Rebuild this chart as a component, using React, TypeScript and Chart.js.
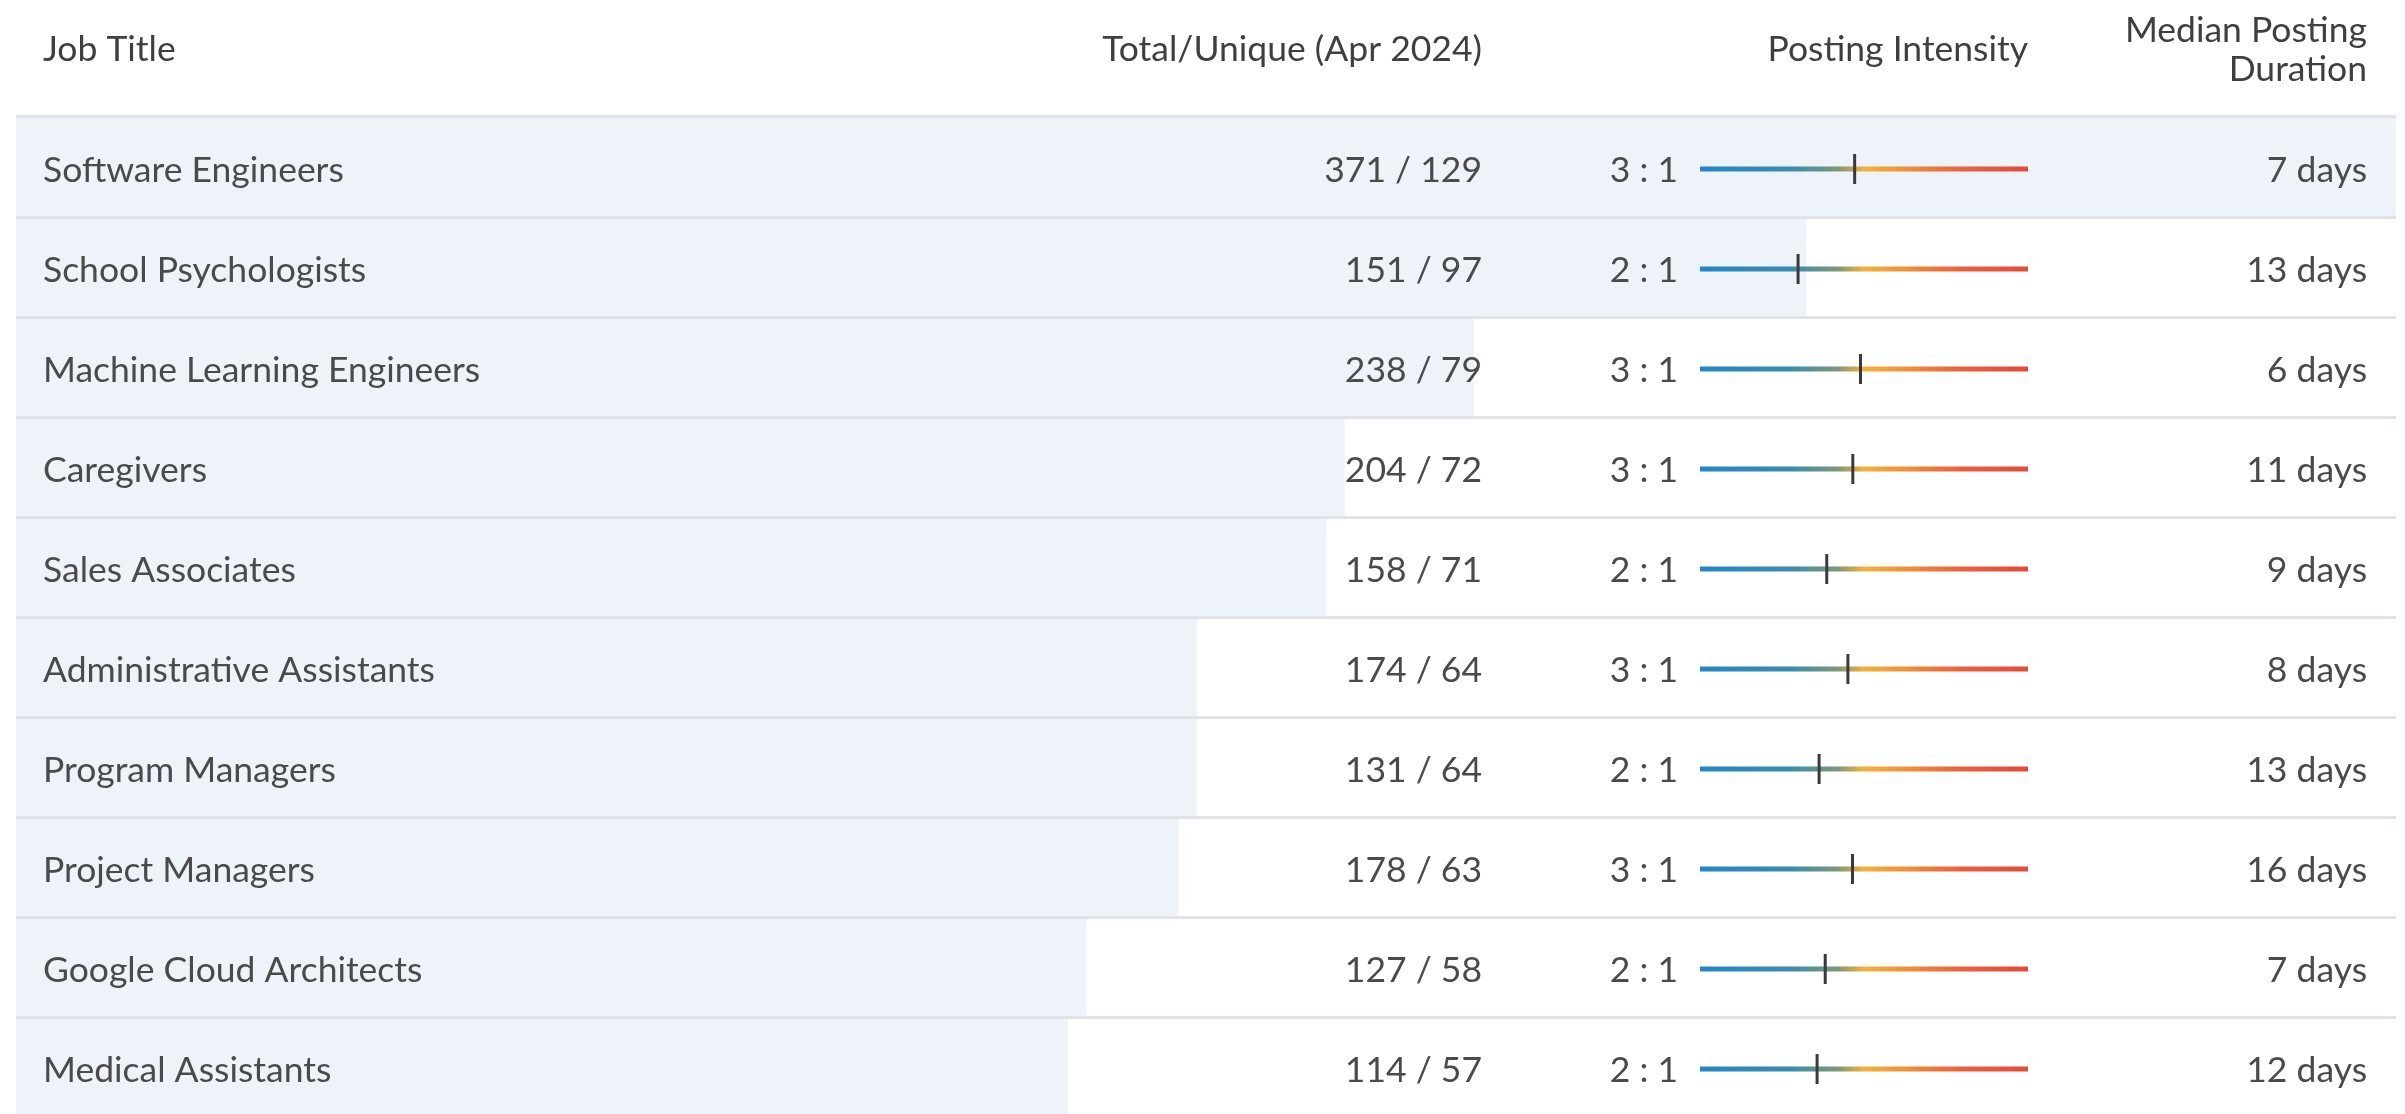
import React, { useEffect, useRef } from "react";
import { Chart, registerables } from "chart.js";

Chart.register(...registerables);

// ---------------- data ----------------
const jobTitles = [
  "Software Engineers",
  "School Psychologists",
  "Machine Learning Engineers",
  "Caregivers",
  "Sales Associates",
  "Administrative Assistants",
  "Program Managers",
  "Project Managers",
  "Google Cloud Architects",
  "Medical Assistants",
];
const totalPostings = [371, 151, 238, 204, 158, 174, 131, 178, 127, 114];
const uniquePostings = [129, 97, 79, 72, 71, 64, 64, 63, 58, 57];
const medianDurationDays = [7, 13, 6, 11, 9, 8, 13, 16, 7, 12];
const headerJob = "Job Title";
const headerTotal = "Total/Unique (Apr 2024)";
const headerIntensity = "Posting Intensity";
const headerDuration = ["Median Posting", "Duration"];

// derived
const intensityRatios = totalPostings.map((t, i) => t / uniquePostings[i]);

// ---------------- layout / style ----------------
const CW = 2405;
const CH = 1120;
const FONT = "Lato, 'Open Sans', sans-serif";
const FONT_SIZE = 35.5;
const TEXT_COLOR = "#4a4a4a";
const HEAD_COLOR = "#3f3f3f";
const BAR_COLOR = "#eef3f9";
const SEP_COLOR = "#dfe3e8";

const COL_TITLE_X = 43;
const COL_TOTAL_RIGHT = 1482;
const COL_RATIO_RIGHT = 1678;
const TRACK_X0 = 1700;
const TRACK_X1 = 2028;
const COL_DAYS_RIGHT = 2367;
const MARK_SHIFT = 2;

const tablePlugin = {
  id: "tablePlugin",
  beforeDatasetDraw(chart: any, args: any) {
    if (args.index !== 1) return;
    const { ctx, chartArea } = chart;
    const yScale = chart.scales.y;
    const n = jobTitles.length;
    const rowH = (chartArea.bottom - chartArea.top) / n;
    ctx.save();
    // row separators
    ctx.fillStyle = SEP_COLOR;
    for (let i = 0; i <= n; i++) {
      const b = chartArea.top + rowH * i;
      if (i === 0) ctx.fillRect(chartArea.left, b - 2, chartArea.right - chartArea.left, 3);
      else ctx.fillRect(chartArea.left, b - 1, chartArea.right - chartArea.left, 3);
    }
    // gradient tracks
    for (let i = 0; i < n; i++) {
      const yc = yScale.getPixelForValue(i) + MARK_SHIFT;
      const g = ctx.createLinearGradient(TRACK_X0, 0, TRACK_X1, 0);
      g.addColorStop(0, "#2286c6");
      g.addColorStop(0.28, "#3a8cae");
      g.addColorStop(0.42, "#7d9878");
      g.addColorStop(0.5, "#f2b23a");
      g.addColorStop(0.62, "#f0923a");
      g.addColorStop(0.8, "#e8603f");
      g.addColorStop(1, "#e04c3c");
      ctx.strokeStyle = g;
      ctx.lineWidth = 5;
      ctx.lineCap = "butt";
      ctx.beginPath();
      ctx.moveTo(TRACK_X0, yc);
      ctx.lineTo(TRACK_X1, yc);
      ctx.stroke();
    }
    ctx.restore();
    // shift the tick marks down to match the text baseline
    ctx.save();
    ctx.translate(0, MARK_SHIFT);
  },
  afterDatasetDraw(chart: any, args: any) {
    if (args.index !== 1) return;
    chart.ctx.restore();
  },
  afterDatasetsDraw(chart: any) {
    const { ctx } = chart;
    const yScale = chart.scales.y;
    ctx.save();
    ctx.font = `${FONT_SIZE}px ${FONT}`;
    ctx.textBaseline = "middle";
    // headers
    ctx.fillStyle = HEAD_COLOR;
    ctx.textAlign = "left";
    ctx.fillText(headerJob, COL_TITLE_X, 50);
    ctx.textAlign = "right";
    ctx.fillText(headerTotal, COL_TOTAL_RIGHT, 50);
    ctx.fillText(headerIntensity, TRACK_X1, 50);
    ctx.fillText(headerDuration[0], COL_DAYS_RIGHT, 31);
    ctx.fillText(headerDuration[1], COL_DAYS_RIGHT, 70);
    // rows
    ctx.fillStyle = TEXT_COLOR;
    for (let i = 0; i < jobTitles.length; i++) {
      const yc = yScale.getPixelForValue(i) + 4;
      ctx.textAlign = "left";
      ctx.fillText(jobTitles[i], COL_TITLE_X, yc);
      ctx.textAlign = "right";
      ctx.fillText(`${totalPostings[i]} / ${uniquePostings[i]}`, COL_TOTAL_RIGHT, yc);
      ctx.fillText(`${Math.round(intensityRatios[i])} : 1`, COL_RATIO_RIGHT, yc);
      ctx.fillText(`${medianDurationDays[i]} days`, COL_DAYS_RIGHT, yc);
    }
    ctx.restore();
  },
};

export default function App() {
  const ref = useRef<HTMLCanvasElement | null>(null);
  useEffect(() => {
    document.body.style.margin = "0";
    document.body.style.overflow = "hidden";
    const canvas = ref.current!;
    const maxUnique = Math.max(...uniquePostings);
    const chart = new Chart(canvas, {
      type: "bar",
      data: {
        labels: jobTitles,
        datasets: [
          {
            type: "bar",
            data: uniquePostings,
            indexAxis: "y",
            xAxisID: "x",
            yAxisID: "y",
            backgroundColor: BAR_COLOR,
            borderWidth: 0,
            barPercentage: 1,
            categoryPercentage: 1,
            order: 2,
          } as any,
          {
            type: "scatter",
            data: intensityRatios.map((r, i) => ({ x: r, y: jobTitles[i] })),
            xAxisID: "x2",
            yAxisID: "y",
            pointStyle: "line",
            rotation: 90,
            radius: 15,
            borderWidth: 3,
            borderColor: "#3a3a3a",
            backgroundColor: "#3a3a3a",
            clip: false,
            order: 1,
          } as any,
        ],
      },
      options: {
        indexAxis: "y",
        responsive: false,
        animation: false,
        devicePixelRatio: 1,
        layout: { autoPadding: false, padding: { left: 16, right: 9, top: 117, bottom: 3 } },
        plugins: { legend: { display: false }, tooltip: { enabled: false }, title: { display: false } },
        scales: {
          x: { type: "linear", min: 0, max: maxUnique, display: false },
          x2: { type: "linear", min: -40, max: 15.5, display: false },
          y: { type: "category", display: false, offset: true },
        },
      } as any,
      plugins: [tablePlugin],
    });
    return () => chart.destroy();
  }, []);
  return (
    <div style={{ width: CW, height: 1114, overflow: "hidden", background: "#ffffff" }}>
      <canvas ref={ref} width={CW} height={CH} style={{ display: "block", width: CW, height: CH }} />
    </div>
  );
}
